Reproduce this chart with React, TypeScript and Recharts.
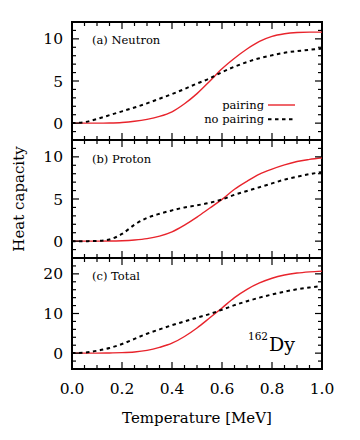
import { Line, LineChart, ReferenceLine, XAxis, YAxis } from "recharts";

const RED = "#e8242c";
const INK = "#000000";
const SERIF = "DejaVu Serif, Liberation Serif, serif";
const W = 360;
const H = 440;
const PLOT_LEFT = 72;
const PLOT_RIGHT = 322;

// temperature grid [MeV]
const TEMPERATURE = [
  0, 0.05, 0.1, 0.15, 0.2, 0.25, 0.3, 0.35, 0.4, 0.45, 0.5, 0.55, 0.6, 0.65,
  0.7, 0.75, 0.8, 0.85, 0.9, 0.95, 1.0,
];

const NEUTRON_PAIRING = [
  0, 0, 0, 0.02, 0.08, 0.22, 0.45, 0.8, 1.35, 2.3, 3.5, 4.95, 6.45, 7.7, 8.8,
  9.7, 10.3, 10.6, 10.75, 10.8, 10.8,
];
const NEUTRON_NO_PAIRING = [
  0, 0.12, 0.5, 0.95, 1.4, 1.85, 2.35, 2.9, 3.45, 4.05, 4.7, 5.3, 6.05, 6.7,
  7.25, 7.7, 8.05, 8.35, 8.55, 8.7, 8.85,
];
const PROTON_PAIRING = [
  0, 0, 0, 0.01, 0.05, 0.14, 0.3, 0.6, 1.1, 1.9, 2.85, 3.9, 4.95, 6.15, 7.1,
  7.95, 8.55, 9.05, 9.45, 9.7, 9.9,
];
const PROTON_NO_PAIRING = [
  0, 0, 0.02, 0.2, 0.85, 1.95, 2.75, 3.25, 3.65, 4.0, 4.25, 4.55, 4.95, 5.5,
  5.95, 6.4, 6.85, 7.3, 7.65, 7.95, 8.2,
];
const TOTAL_PAIRING = [
  0, 0, 0, 0.05, 0.12, 0.3, 0.7, 1.45, 2.5, 4.2, 6.35, 8.85, 11.4, 14.0, 16.1,
  17.7, 18.9, 19.7, 20.2, 20.5, 20.7,
];
const TOTAL_NO_PAIRING = [
  0, 0.15, 0.6, 1.3, 2.3, 3.6, 4.9, 6.0, 7.05, 8.0, 8.95, 9.85, 10.95, 12.1,
  13.1, 14.0, 14.8, 15.5, 16.1, 16.55, 16.95,
];

const X_TICKS = [
  0, 0.05, 0.1, 0.15, 0.2, 0.25, 0.3, 0.35, 0.4, 0.45, 0.5, 0.55, 0.6, 0.65,
  0.7, 0.75, 0.8, 0.85, 0.9, 0.95, 1.0,
];
const X_MAJOR = [0, 0.2, 0.4, 0.6, 0.8, 1.0];

const SUB_TICKS = [-2, -1, 0, 1, 2, 3, 4, 5, 6, 7, 8, 9, 10, 11, 12];
const SUB_MAJOR = [0, 5, 10];
const TOTAL_TICKS = [-4, -2, 0, 2, 4, 6, 8, 10, 12, 14, 16, 18, 20, 22, 24];
const TOTAL_MAJOR = [0, 10, 20];

// stacked panel boxes (pixel layout, top/bottom of each plot area)
const BOXES = [
  { top: 22, bottom: 140 },
  { top: 140, bottom: 258 },
  { top: 258, bottom: 369 },
];

type Row = { t: number; pairing: number; noPairing: number };

function toRows(pairing: number[], noPairing: number[]): Row[] {
  return TEMPERATURE.map((t, i) => ({
    t,
    pairing: pairing[i],
    noPairing: noPairing[i],
  }));
}

const isMajor = (majors: number[], v: number) =>
  majors.some((m) => Math.abs(m - v) < 1e-6);

const tickFont = { fontFamily: SERIF, fontSize: 15.5 };

// left axis: inward ticks on both sides of the box, label on the left
function makeYTick(majors: number[]) {
  return (props: any) => {
    const x = Number(props.x);
    const y = Number(props.y);
    const v = Number(props.payload?.value);
    const major = isMajor(majors, v);
    const len = major ? 7 : 4;
    const xr = x + (PLOT_RIGHT - PLOT_LEFT);
    return (
      <g>
        <line x1={x} y1={y} x2={x + len} y2={y} stroke={INK} strokeWidth={1.2} />
        <line x1={xr} y1={y} x2={xr - len} y2={y} stroke={INK} strokeWidth={1.2} />
        {major && (
          <text x={x - 9} y={y + 5.5} textAnchor="end" fill={INK} style={tickFont}>
            {v}
          </text>
        )}
      </g>
    );
  };
}

// bottom axis of the last panel: labels, plus inward ticks on every box edge
function XTick(props: any) {
  const x = Number(props.x);
  const y = Number(props.y);
  const v = Number(props.payload?.value);
  const major = isMajor(X_MAJOR, v);
  const len = major ? 7 : 4;
  return (
    <g>
      {BOXES.map((b, i) => (
        <g key={i}>
          <line x1={x} y1={b.top} x2={x} y2={b.top + len} stroke={INK} strokeWidth={1.2} />
          <line x1={x} y1={b.bottom} x2={x} y2={b.bottom - len} stroke={INK} strokeWidth={1.2} />
        </g>
      ))}
      {major && (
        <text x={x} y={y + 24.5} textAnchor="middle" fill={INK} style={tickFont}>
          {v.toFixed(1)}
        </text>
      )}
    </g>
  );
}

const border = {
  stroke: INK,
  strokeWidth: 2,
  strokeLinecap: "square" as const,
  ifOverflow: "visible" as const,
};

function Panel({
  rows,
  box,
  domain,
  ticks,
  majors,
  showX,
}: {
  rows: Row[];
  box: { top: number; bottom: number };
  domain: [number, number];
  ticks: number[];
  majors: number[];
  showX: boolean;
}) {
  return (
    <div style={{ position: "absolute", left: 0, top: 0 }}>
      <LineChart
        width={W}
        height={H}
        data={rows}
        margin={{
          top: box.top,
          right: W - PLOT_RIGHT,
          left: 0,
          bottom: showX ? 0 : H - box.bottom,
        }}
      >
        <XAxis
          dataKey="t"
          type="number"
          domain={[0, 1]}
          ticks={X_TICKS}
          interval={0}
          hide={!showX}
          height={showX ? H - box.bottom : 0}
          tickSize={0}
          tickMargin={0}
          tickLine={false}
          axisLine={false}
          tick={XTick}
        />
        <YAxis
          type="number"
          domain={domain}
          ticks={ticks}
          interval={0}
          width={PLOT_LEFT}
          tickSize={0}
          tickMargin={0}
          tickLine={false}
          axisLine={false}
          tick={makeYTick(majors)}
        />
        <ReferenceLine y={domain[1]} {...border} />
        <ReferenceLine y={domain[0]} {...border} />
        <ReferenceLine x={0} {...border} />
        <ReferenceLine x={1} {...border} />
        <Line
          type="monotone"
          dataKey="pairing"
          stroke={RED}
          strokeWidth={1.4}
          dot={false}
          isAnimationActive={false}
        />
        <Line
          type="monotone"
          dataKey="noPairing"
          stroke={INK}
          strokeWidth={2}
          strokeDasharray="3.5 3.5"
          dot={false}
          isAnimationActive={false}
        />
      </LineChart>
    </div>
  );
}

export default function App() {
  return (
    <div
      style={{
        position: "absolute",
        left: 0,
        top: 0,
        width: W,
        height: H,
        background: "#fff",
        fontFamily: SERIF,
      }}
    >
      <Panel
        rows={toRows(NEUTRON_PAIRING, NEUTRON_NO_PAIRING)}
        box={BOXES[0]}
        domain={[-2, 12]}
        ticks={SUB_TICKS}
        majors={SUB_MAJOR}
        showX={false}
      />
      <Panel
        rows={toRows(PROTON_PAIRING, PROTON_NO_PAIRING)}
        box={BOXES[1]}
        domain={[-2, 12]}
        ticks={SUB_TICKS}
        majors={SUB_MAJOR}
        showX={false}
      />
      <Panel
        rows={toRows(TOTAL_PAIRING, TOTAL_NO_PAIRING)}
        box={BOXES[2]}
        domain={[-4, 24]}
        ticks={TOTAL_TICKS}
        majors={TOTAL_MAJOR}
        showX={true}
      />
      <svg
        width={W}
        height={H}
        style={{
          position: "absolute",
          left: 0,
          top: 0,
          pointerEvents: "none",
          fontFamily: SERIF,
        }}
        fill={INK}
      >
        <text x={92} y={43.5} fontSize={11.5}>(a) Neutron</text>
        <text x={92} y={162.5} fontSize={11.5}>(b) Proton</text>
        <text x={92} y={279.5} fontSize={11.5}>(c) Total</text>

        <text x={264} y={109} textAnchor="end" fontSize={11.5}>pairing</text>
        <line x1={268} x2={295} y1={105} y2={105} stroke={RED} strokeWidth={1.4} />
        <text x={264} y={123} textAnchor="end" fontSize={11.5}>no pairing</text>
        <line
          x1={268}
          x2={295}
          y1={119.3}
          y2={119.3}
          stroke={INK}
          strokeWidth={2}
          strokeDasharray="3.5 3.5"
        />

        <text x={248} y={339.5} fontSize={10.5}>162</text>
        <text x={269} y={351} fontSize={19}>Dy</text>

        <text x={197} y={423} textAnchor="middle" fontSize={15}>
          Temperature [MeV]
        </text>
        <text
          transform="translate(24,199) rotate(-90)"
          textAnchor="middle"
          fontSize={15}
        >
          Heat capacity
        </text>
      </svg>
    </div>
  );
}
